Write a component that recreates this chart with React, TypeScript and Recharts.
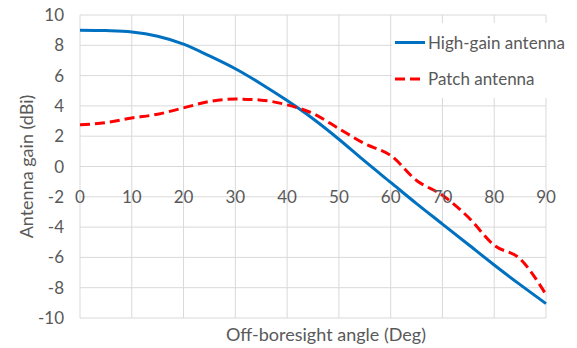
import React from 'react';
import { LineChart, Line, XAxis, YAxis, CartesianGrid } from 'recharts';

const angles = [0, 5, 10, 15, 20, 25, 30, 35, 40, 45, 50, 55, 60, 65, 70, 75, 80, 85, 90];
const highGain = [9.0, 8.97, 8.88, 8.6, 8.08, 7.3, 6.45, 5.45, 4.35, 3.15, 1.8, 0.35, -1.05, -2.45, -3.8, -5.15, -6.5, -7.8, -9.05];
const patch = [2.75, 2.9, 3.2, 3.45, 3.87, 4.29, 4.45, 4.38, 4.07, 3.5, 2.5, 1.5, 0.73, -0.92, -1.9, -3.35, -5.2, -6.1, -8.45];
const xTicks = [0, 10, 20, 30, 40, 50, 60, 70, 80, 90];
const yTicks = [-10, -8, -6, -4, -2, 0, 2, 4, 6, 8, 10];
const seriesNames = ['High-gain antenna', 'Patch antenna'];

const data = angles.map((a, i) => ({ angle: a, high: highGain[i], patch: patch[i] }));

const FONT = 'Lato, sans-serif';
const TEXT = '#595959';
const GRID = '#D9D9D9';
const BLUE = '#0070C0';
const RED = '#FF0000';
const FS = 17;

const XTick = (props: any) => {
  const { x, y, payload } = props;
  return (
    <text x={x} y={y - 121} dy="0.355em" textAnchor="middle" fill={TEXT} fontSize={FS} fontFamily={FONT}>
      {payload.value}
    </text>
  );
};

const ChartLegend = () => (
  <div style={{ position: 'absolute', left: 392, top: 23, width: 175, height: 75, background: '#fff' }}>
    <svg width={175} height={75} style={{ display: 'block' }}>
      <line x1={3} x2={33} y1={19.5} y2={19.5} stroke={BLUE} strokeWidth={3} />
      <text x={36} y={19.5} dy="0.355em" fill={TEXT} fontSize={17} fontFamily={FONT}>{seriesNames[0]}</text>
      <line x1={3} x2={33} y1={56} y2={56} stroke={RED} strokeWidth={3} strokeDasharray="10 5" />
      <text x={36} y={56} dy="0.355em" fill={TEXT} fontSize={17} fontFamily={FONT}>{seriesNames[1]}</text>
    </svg>
  </div>
);

export default function App() {
  return (
    <div style={{ position: 'absolute', left: 0, top: 0, width: 577, height: 348, background: '#fff' }}>
      <LineChart width={577} height={348} data={data} margin={{ top: 15, right: 31, bottom: 0, left: 0 }}>
        <CartesianGrid stroke={GRID} strokeWidth={1} />
        <XAxis
          dataKey="angle"
          type="number"
          domain={[0, 90]}
          ticks={xTicks}
          height={30}
          axisLine={false}
          tickLine={false}
          tickSize={0}
          tickMargin={0}
          tick={<XTick />}
          interval={0}
          label={{ value: 'Off-boresight angle (Deg)', position: 'center', dx: 13, dy: 2, fill: TEXT, fontSize: 18, fontFamily: FONT }}
        />
        <YAxis
          type="number"
          domain={[-10, 10]}
          ticks={yTicks}
          width={80}
          axisLine={false}
          tickLine={false}
          tickSize={0}
          tickMargin={16}
          interval={0}
          tick={{ fill: TEXT, fontSize: FS, fontFamily: FONT }}
          label={{ value: 'Antenna gain (dBi)', angle: -90, position: 'center', dx: -13, fill: TEXT, fontSize: 18, fontFamily: FONT }}
        />
        <Line type="monotone" dataKey="high" name={seriesNames[0]} stroke={BLUE} strokeWidth={3} dot={false} isAnimationActive={false} />
        <Line type="monotone" dataKey="patch" name={seriesNames[1]} stroke={RED} strokeWidth={3} strokeDasharray="10 5" dot={false} isAnimationActive={false} />
      </LineChart>
      <ChartLegend />
    </div>
  );
}
